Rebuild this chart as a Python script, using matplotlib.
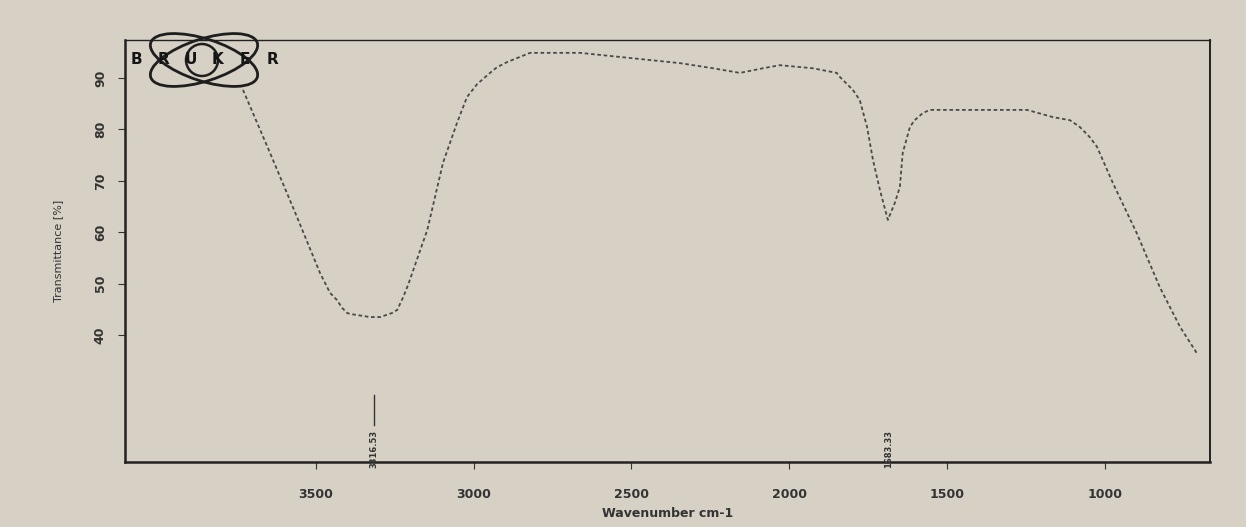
import matplotlib.pyplot as plt
from matplotlib.patches import Ellipse, Circle

# spectrum (wavenumber cm-1, transmittance %)
wn = [3731, 3645, 3560, 3487, 3455, 3433, 3417, 3401, 3391, 3328, 3296, 3258,
      3242, 3223, 3208, 3147, 3097, 3053, 3021, 2989, 2948, 2926, 2894, 2821,
      2663, 2504, 2346, 2241, 2156, 2083, 2029, 1925, 1849, 1839, 1798, 1776,
      1753, 1734, 1712, 1687, 1665, 1649, 1640, 1617, 1602, 1576, 1554, 1373,
      1246, 1164, 1110, 1079, 1047, 1024, 974, 898, 825, 761, 708]
trans = [87.7, 75.4, 63.0, 52.1, 48.2, 46.8, 45.3, 44.3, 44.1, 43.5, 43.5, 44.3,
         44.9, 47.4, 49.7, 60.4, 73.5, 81.2, 86.3, 88.8, 91.0, 92.1, 93.1, 94.9,
         94.9, 93.9, 92.9, 91.9, 91.0, 91.9, 92.5, 91.9, 91.0, 90.2, 87.7, 85.7,
         80.5, 74.0, 68.2, 62.4, 65.7, 68.8, 75.4, 80.5, 81.8, 83.2, 83.8, 83.8,
         83.8, 82.4, 81.8, 80.5, 78.5, 76.6, 69.6, 59.8, 49.3, 41.6, 36.5]

peaks = [3316.53, 1683.33]
xticks = [3500, 3000, 2500, 2000, 1500, 1000]
yticks = [40, 50, 60, 70, 80, 90]

paper = '#d7d1c5'
ink = '#333333'

fig = plt.figure(figsize=(12.46, 5.27), dpi=100, facecolor=paper)
ax = fig.add_axes([0.1003, 0.1233, 0.8708, 0.8008])
ax.set_facecolor(paper)

ax.plot(wn, trans, color='#4a4a4a', linestyle=(0, (2, 1.5)), linewidth=1.3)

# peak markers
ax.plot([peaks[0], peaks[0]], [22.5, 28.3], color=ink, linewidth=1)
for p in peaks:
    ax.text(p, 21.5, '%.2f' % p, rotation=90, ha='center', va='top',
            fontsize=6, color=ink, fontweight='bold')

ax.set_xlim(4105, 666)
ax.set_ylim(15.3, 97.4)
ax.set_xticks(xticks)
ax.set_yticks(yticks)
ax.tick_params(axis='y', labelrotation=90, labelsize=9, colors=ink, direction='out',
               length=5, pad=8)
ax.tick_params(axis='x', labelsize=9, colors=ink, direction='out', length=5, pad=14)
for lab in ax.get_xticklabels() + ax.get_yticklabels():
    lab.set_fontweight('bold')
for lab in ax.get_yticklabels():
    lab.set_va('center')

ax.spines['left'].set_linewidth(1.8)
ax.spines['bottom'].set_linewidth(1.8)
ax.spines['right'].set_linewidth(1.4)
ax.spines['top'].set_linewidth(1.0)
for s in ax.spines.values():
    s.set_color('#222222')

ax.set_xlabel('Wavenumber cm-1', fontsize=9, color=ink, fontweight='bold', labelpad=4)
ax.set_ylabel('Transmittance [%]', fontsize=8, color=ink, labelpad=22)

# Bruker logo, placed in figure inches
tr = fig.dpi_scale_trans
for ang in (18, -18):
    fig.patches.append(Ellipse((2.04, 4.67), 1.12, 0.42, angle=ang, transform=tr,
                               fill=False, edgecolor='#1e1e1e', linewidth=2))
fig.patches.append(Circle((2.02, 4.67), 0.16, transform=tr, fill=False,
                          edgecolor='#1e1e1e', linewidth=1.8))
for i, ch in enumerate('BRUKER'):
    fig.text((1.36 + i * 0.272) / 12.46, 4.67 / 5.27, ch, fontsize=11,
             fontweight='heavy', color='#151515', ha='center', va='center')

fig.savefig('out.png', dpi=100, facecolor=paper)
